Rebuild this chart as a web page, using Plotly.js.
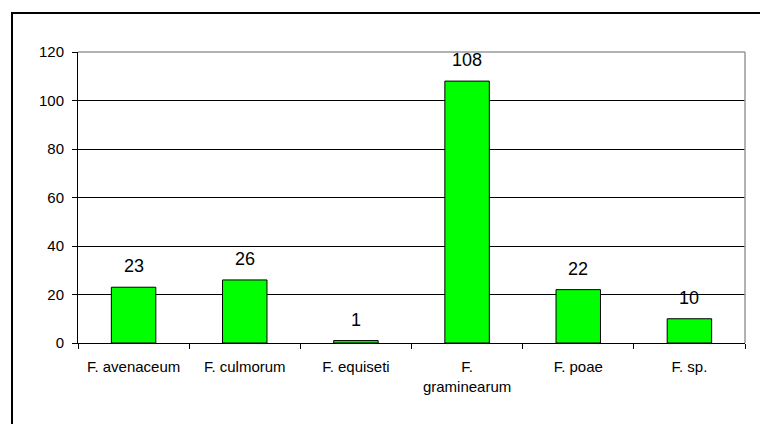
<!DOCTYPE html>
<html>
<head>
<meta charset="utf-8">
<script src="https://cdn.plot.ly/plotly-3.0.1.min.js"></script>
<style>
  html, body { margin: 0; padding: 0; background: #fff; }
  #wrap { position: relative; width: 760px; height: 424px; overflow: hidden; }
  #chart { width: 760px; height: 424px; }
  #frame { position: absolute; left: 11px; top: 12px; width: 800px; height: 500px;
           border-left: 2px solid #000; border-top: 2px solid #000; pointer-events: none; }
</style>
</head>
<body>
<div id="wrap">
  <div id="chart"></div>
  <div id="frame"></div>
</div>
<script>
const categories = ["F. avenaceum", "F. culmorum", "F. equiseti", "F. graminearum", "F. poae", "F. sp."];
const tickLabels = ["F. avenaceum", "F. culmorum", "F. equiseti", "F.<br>graminearum", "F. poae", "F. sp."];
const values = [23, 26, 1, 108, 22, 10];
const yTicks = [0, 20, 40, 60, 80, 100, 120];

const fontFamily = "Arial, 'Liberation Sans', sans-serif";

const trace = {
  type: "bar",
  x: categories,
  y: values,
  marker: { color: "#00FF00", line: { color: "#000000", width: 1 } },
  width: 0.4,
  hoverinfo: "skip"
};

const annotations = categories.map((c, i) => ({
  x: c, y: values[i], xref: "x", yref: "y",
  text: String(values[i]),
  showarrow: false,
  yanchor: "middle",
  yshift: 21,
  font: { family: fontFamily, size: 18, color: "#000" }
}));

const layout = {
  width: 760, height: 424,
  margin: { l: 78, r: 15, t: 52, b: 81 },
  paper_bgcolor: "#fff",
  plot_bgcolor: "#fff",
  showlegend: false,
  font: { family: fontFamily, size: 15, color: "#000" },
  xaxis: {
    type: "category",
    tickvals: categories,
    ticktext: tickLabels,
    tickson: "boundaries",
    ticks: "outside",
    ticklen: 5,
    tickcolor: "#000",
    showline: true,
    linecolor: "#000",
    linewidth: 1,
    showgrid: false,
    zeroline: false,
    ticklabelstandoff: 10,
    tickfont: { family: fontFamily, size: 15, color: "#000" },
    fixedrange: true
  },
  yaxis: {
    range: [0, 120],
    tickvals: yTicks,
    ticks: "outside",
    ticklen: 5,
    tickcolor: "#000",
    showline: true,
    linecolor: "#000",
    linewidth: 1,
    showgrid: true,
    gridcolor: "#000",
    gridwidth: 1,
    zeroline: false,
    ticklabelstandoff: 5,
    tickfont: { family: fontFamily, size: 15, color: "#000" },
    fixedrange: true
  },
  shapes: [
    { type: "line", xref: "paper", yref: "paper", x0: 0, x1: 1, y0: 1, y1: 1,
      line: { color: "#999", width: 1.5 }, layer: "above" },
    { type: "line", xref: "paper", yref: "paper", x0: 1, x1: 1, y0: 0, y1: 1,
      line: { color: "#999", width: 1.5 }, layer: "above" }
  ],
  annotations: annotations
};

Plotly.newPlot("chart", [trace], layout, { displayModeBar: false, staticPlot: true });
</script>
</body>
</html>
